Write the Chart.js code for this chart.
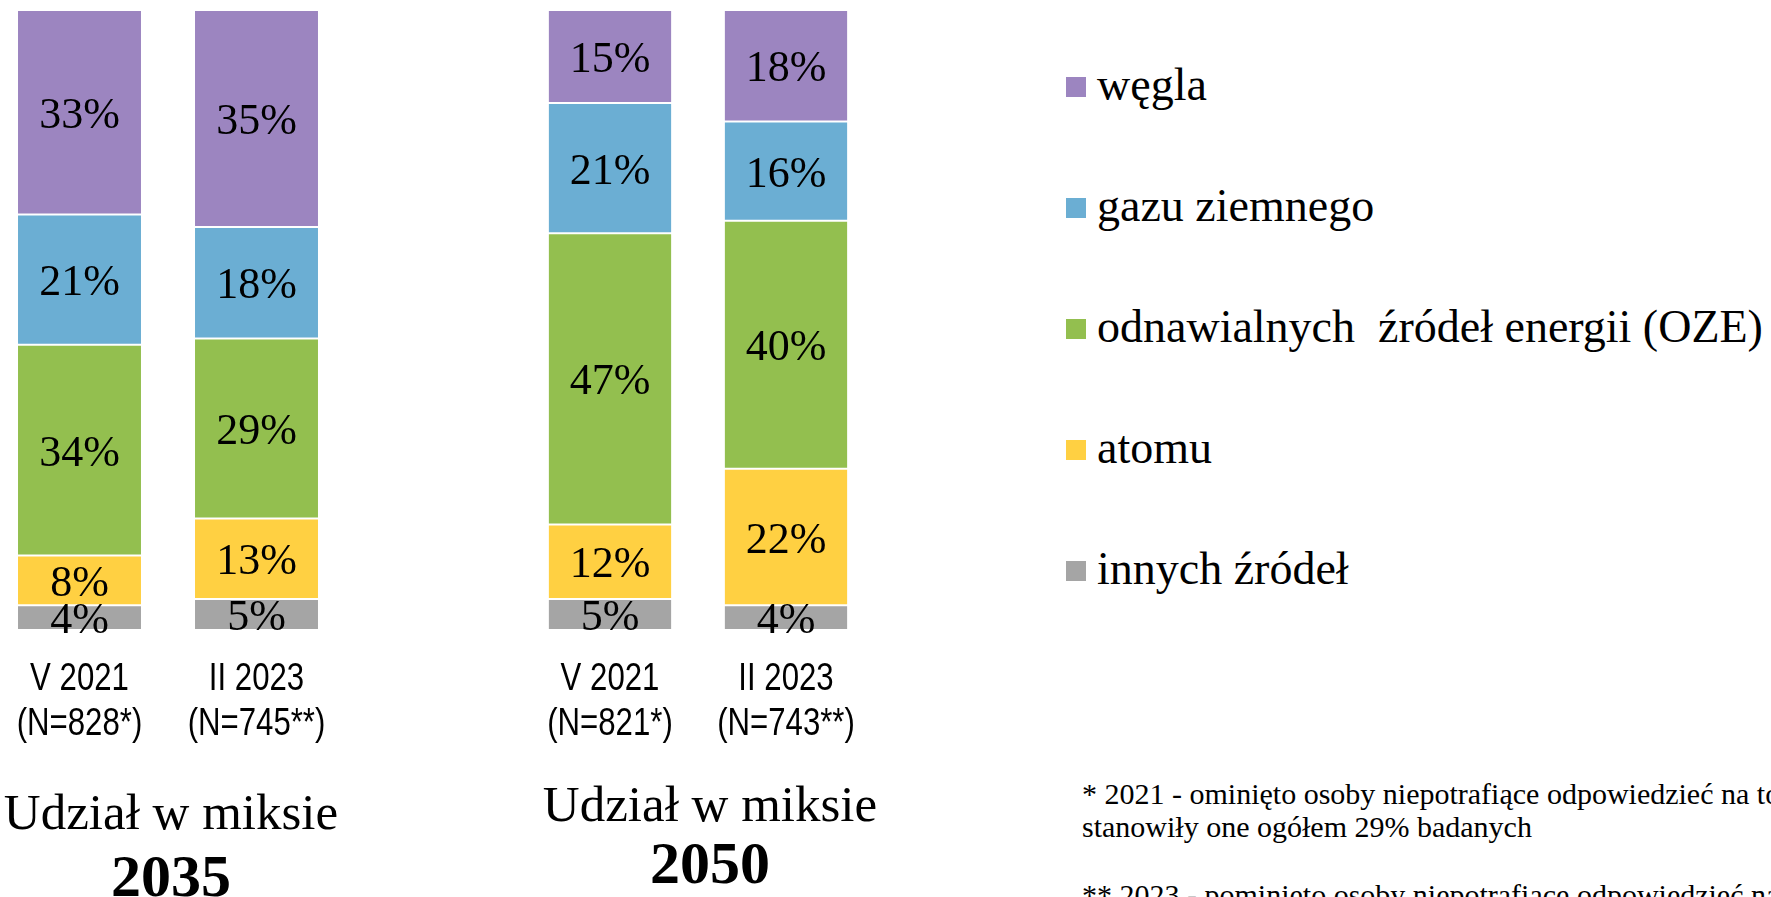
<!DOCTYPE html>
<html lang="pl">
<head>
<meta charset="utf-8">
<title>Udział w miksie 2035 i 2050</title>
<script src="https://cdn.jsdelivr.net/npm/chart.js@4.4.1/dist/chart.umd.min.js"></script>
<style>
  html, body { margin: 0; padding: 0; background: #fff; }
  #page { position: relative; width: 1771px; height: 897px; overflow: hidden; font-family: 'Liberation Serif', serif; color: #000; }
  canvas { position: absolute; top: 0; }
  #c2035 { left: -9px; }
  #c2050 { left: 522px; }
  .title { position: absolute; width: 400px; text-align: center; white-space: nowrap; line-height: 1; }
  .title .l1 { position: absolute; left: 0; right: 0; font-size: 51px; }
  .title .l2 { position: absolute; left: 0; right: 0; font-size: 60px; font-weight: bold; }
  .legend-row { position: absolute; left: 1066px; font-size: 46px; line-height: 1; }
  .legend-row i { position: absolute; left: 0; width: 20px; height: 20px; }
  .legend-row span { position: absolute; left: 31px; top: 0; white-space: pre; }
  .note { position: absolute; left: 1082px; font-size: 30px; line-height: 1; white-space: nowrap; }
</style>
</head>
<body>
<div id="page">
  <canvas id="c2035" width="354" height="760"></canvas>
  <canvas id="c2050" width="352" height="760"></canvas>

  <div class="title" style="left:-29px;">
    <div class="l1" style="top:787px;">Udział w miksie</div>
    <div class="l2" style="top:846px;">2035</div>
  </div>
  <div class="title" style="left:510px;">
    <div class="l1" style="top:779px;">Udział w miksie</div>
    <div class="l2" style="top:833px;">2050</div>
  </div>

  <div id="legend"></div>

  <div class="note" style="top:779px;">* 2021 - ominięto osoby niepotrafiące odpowiedzieć na to pytanie,</div>
  <div class="note" style="top:812px;">stanowiły one ogółem 29% badanych</div>
  <div class="note" style="top:880px;">** 2023 - pominięto osoby niepotrafiące odpowiedzieć na to pytanie,</div>
</div>

<script>
// źródła energii — kolejność jak w legendzie (od góry)
const sources = ['węgla', 'gazu ziemnego', 'odnawialnych  źródeł energii (OZE)', 'atomu', 'innych źródeł'];
const colors = ['#9C85C0', '#6BAED3', '#93BF4F', '#FFD042', '#A5A5A5'];

const waves2035 = [['V 2021', '(N=828*)'], ['II 2023', '(N=745**)']];
const waves2050 = [['V 2021', '(N=821*)'], ['II 2023', '(N=743**)']];

// udział w miksie 2035 (%)
const coal2035 = [33, 35];
const gas2035 = [21, 18];
const renew2035 = [34, 29];
const nuclear2035 = [8, 13];
const other2035 = [4, 5];

// udział w miksie 2050 (%)
const coal2050 = [15, 18];
const gas2050 = [21, 16];
const renew2050 = [47, 40];
const nuclear2050 = [12, 22];
const other2050 = [5, 4];

const $ = sel => document.querySelector(sel);

// ── podpisy procentów na środku segmentów ─────────────
const segmentLabels = {
  id: 'segmentLabels',
  afterDatasetsDraw(chart) {
    const { ctx } = chart;
    ctx.save();
    ctx.font = '44px "Liberation Serif"';
    ctx.fillStyle = '#000';
    ctx.textAlign = 'center';
    ctx.textBaseline = 'middle';
    chart.data.datasets.forEach((ds, i) => {
      chart.getDatasetMeta(i).data.forEach((bar, j) => {
        const { x, y, base } = bar.getProps(['x', 'y', 'base'], true);
        ctx.fillText(ds.data[j] + '%', x, (y + base) / 2 + 4);
      });
    });
    ctx.restore();
  },
};

// ── podpisy fal badania pod słupkami (wąski krój, 2 linie) ─
const waveLabels = {
  id: 'waveLabels',
  afterDraw(chart) {
    const { ctx, chartArea } = chart;
    const xs = chart.scales.x;
    ctx.save();
    ctx.font = '38px "Liberation Sans"';
    ctx.fillStyle = '#000';
    ctx.textAlign = 'center';
    ctx.textBaseline = 'alphabetic';
    chart.data.labels.forEach((lines, i) => {
      const cx = xs.getPixelForValue(i);
      lines.forEach((t, k) => {
        ctx.save();
        ctx.translate(cx, chartArea.bottom + 60 + k * 45);
        ctx.scale(0.82, 1);
        ctx.fillText(t, 0, 0);
        ctx.restore();
      });
    });
    ctx.restore();
  },
};

function makeChart(canvas, labels, series) {
  // stos od dołu: inne, atom, OZE, gaz, węgiel
  const datasets = series.map((data, i) => ({
    label: sources[i], data,
    backgroundColor: colors[i], borderColor: '#fff', borderWidth: 1, borderSkipped: false,
    barPercentage: 0.706, categoryPercentage: 1,
  })).reverse();

  return new Chart(canvas, {
    type: 'bar',
    data: { labels, datasets },
    plugins: [segmentLabels, waveLabels],
    options: {
      responsive: false, animation: false, devicePixelRatio: 1,
      layout: { padding: { top: 10, bottom: 130, left: 0, right: 0 } },
      plugins: { legend: { display: false }, tooltip: { enabled: false } },
      scales: {
        x: { stacked: true, display: false },
        y: { stacked: true, display: false, min: 0, max: 100 },
      },
    },
  });
}

makeChart($('#c2035'), waves2035, [coal2035, gas2035, renew2035, nuclear2035, other2035]);
makeChart($('#c2050'), waves2050, [coal2050, gas2050, renew2050, nuclear2050, other2050]);

// ── legenda ───────────────────────────────────────────
$('#legend').innerHTML = sources.map((name, i) => {
  const top = 62 + i * 121;
  return `<div class="legend-row" style="top:${top}px"><i style="background:${colors[i]}; top:15px"></i><span>${name}</span></div>`;
}).join('');
</script>
</body>
</html>
